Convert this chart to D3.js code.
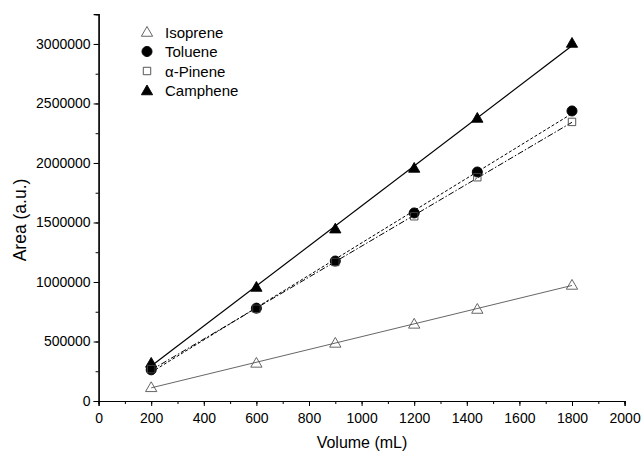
<!DOCTYPE html>
<html>
<head>
<meta charset="utf-8">
<script src="https://cdn.jsdelivr.net/npm/d3@7"></script>
<style>
  body { margin: 0; background: #fff; }
  text { font-family: Arial, "Liberation Sans", sans-serif; }
</style>
</head>
<body>
<svg id="chart" width="643" height="456"></svg>
<script>
// data
let volumes = [200, 600, 900, 1200, 1440, 1800];
let isoprene = [115000, 320000, 488000, 648000, 773000, 975000];
let toluene = [262000, 780000, 1176000, 1580000, 1924000, 2437000];
let pinene = [268000, 775000, 1168000, 1552000, 1880000, 2345000];
let camphene = [320000, 958000, 1448000, 1958000, 2378000, 3008000];
let names = ['Isoprene', 'Toluene', '\u03b1-Pinene', 'Camphene'];
let xTicks = [0, 200, 400, 600, 800, 1000, 1200, 1400, 1600, 1800, 2000];
let yTicks = [0, 500000, 1000000, 1500000, 2000000, 2500000, 3000000];

let svg = d3.select('#chart');
let x = d3.scaleLinear().domain([0, 2000]).range([98.6, 624.6]);
let y = d3.scaleLinear().domain([0, 3250000]).range([401, 14.2]);

// least squares line
function fit (xs, ys) {
    let n = xs.length;
    let mx = d3.mean(xs), my = d3.mean(ys);
    let sxy = 0, sxx = 0;
    for (let i = 0; i < n; i++) {
        sxy += (xs[i] - mx) * (ys[i] - my);
        sxx += (xs[i] - mx) * (xs[i] - mx);
    }
    let b = sxy / sxx;
    return v => my + b * (v - mx);
}

let series = [
    { name: names[0], vals: isoprene, sym: 'tri', fill: 'none', stroke: '#555', dash: null, lw: 0.9 },
    { name: names[1], vals: toluene, sym: 'circle', fill: '#000', stroke: '#000', dash: '3,2', lw: 1 },
    { name: names[2], vals: pinene, sym: 'square', fill: 'none', stroke: '#444', dash: '6,2,1.5,2', lw: 1 },
    { name: names[3], vals: camphene, sym: 'tri', fill: '#000', stroke: '#000', dash: null, lw: 1.2 }
];

function symPath (sym) {
    if (sym === 'tri') return d3.symbol().type(d3.symbolTriangle).size(55)();
    if (sym === 'square') return d3.symbol().type(d3.symbolSquare).size(55)();
    return d3.symbol().type(d3.symbolCircle).size(80)();
}

// fit lines
series.forEach(s => {
    let f = fit(volumes, s.vals);
    let x0 = d3.min(volumes), x1 = d3.max(volumes);
    svg.append('line')
        .attr('x1', x(x0)).attr('y1', y(f(x0)))
        .attr('x2', x(x1)).attr('y2', y(f(x1)))
        .attr('stroke', s.dash ? '#000' : s.stroke)
        .attr('stroke-width', s.lw)
        .attr('stroke-dasharray', s.dash);
});

// markers, squares drawn last so they sit over the circles
[series[0], series[3], series[1], series[2]].forEach(s => {
    svg.append('g').selectAll('path')
        .data(volumes.map((v, i) => [v, s.vals[i]]))
        .join('path')
        .attr('d', symPath(s.sym))
        .attr('transform', d => 'translate(' + x(d[0]) + ',' + (y(d[1]) + (s.sym === 'tri' ? 1 : 0)) + ')')
        .attr('fill', s.fill)
        .attr('stroke', s.stroke)
        .attr('stroke-width', 0.9);
});

// axes
let xAxis = svg.append('g').attr('transform', 'translate(0,401)');
xAxis.call(d3.axisBottom(x).tickValues(d3.range(0, 2001, 100)).tickSize(3).tickFormat(''));
xAxis.append('g').call(d3.axisBottom(x).tickValues(xTicks).tickSize(5).tickFormat(d3.format('d')));
let yAxis = svg.append('g').attr('transform', 'translate(98.6,0)');
yAxis.call(d3.axisLeft(y).tickValues(d3.range(0, 3250001, 250000)).tickSize(3).tickFormat(''));
yAxis.append('g').call(d3.axisLeft(y).tickValues(yTicks).tickSize(5).tickFormat(d3.format('d')));

svg.selectAll('.domain').attr('stroke', '#000').attr('stroke-width', 1.2);
svg.selectAll('.tick line').attr('stroke', '#000');
svg.selectAll('.tick text').attr('font-size', 14).attr('fill', '#000')
    .attr('font-family', 'Arial, "Liberation Sans", sans-serif');
xAxis.selectAll('.tick text').attr('dy', '1.0em');

// axis titles
svg.append('text').attr('x', 362).attr('y', 448).attr('text-anchor', 'middle')
    .attr('font-size', 16).text('Volume (mL)');
svg.append('text').attr('transform', 'translate(26,220) rotate(-90)').attr('text-anchor', 'middle')
    .attr('font-size', 17.5).text('Area (a.u.)');

// legend
series.forEach((s, i) => {
    let ly = 32 + i * 19.5;
    svg.append('path').attr('d', symPath(s.sym))
        .attr('transform', 'translate(147,' + (ly + (s.sym === 'tri' ? 1 : 0)) + ')')
        .attr('fill', s.fill).attr('stroke', s.stroke).attr('stroke-width', 0.9);
    svg.append('text').attr('x', 165).attr('y', ly + 5.5).attr('font-size', 15).text(s.name);
});
</script>
</body>
</html>
